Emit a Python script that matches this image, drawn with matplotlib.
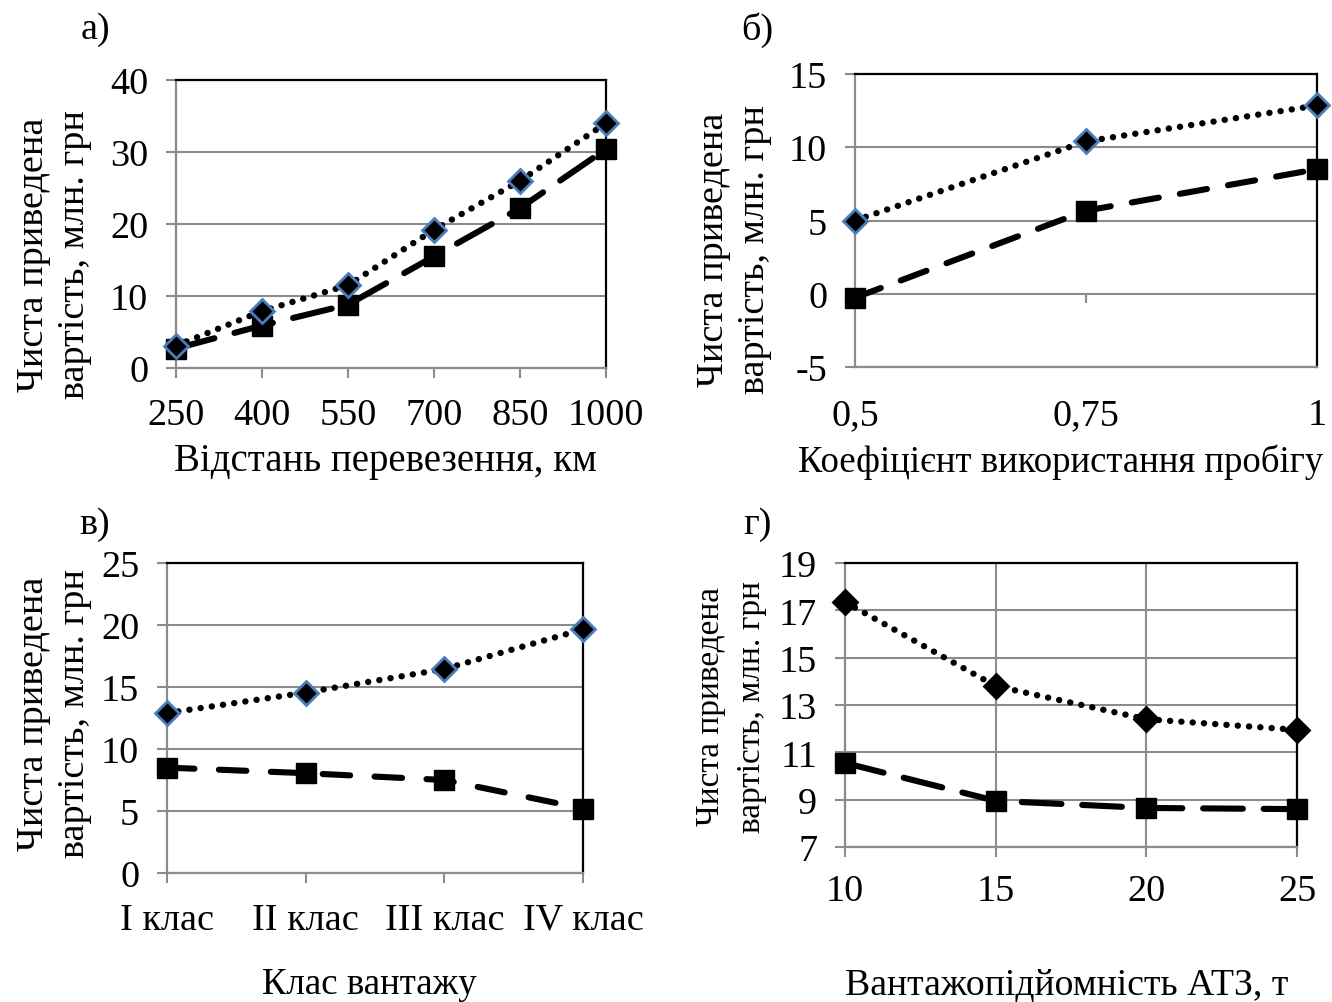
import matplotlib
matplotlib.use("Agg")
import matplotlib.pyplot as plt

plt.rcParams['font.family'] = ['Liberation Serif', 'DejaVu Serif']
plt.rcParams['axes.unicode_minus'] = False

# ---- data ----
dist_km = [250, 400, 550, 700, 850, 1000]
a_upper = [3.1, 7.9, 11.5, 19.2, 26.0, 34.0]
a_lower = [2.7, 5.9, 8.8, 15.5, 22.2, 30.4]

coef = [0.5, 0.75, 1.0]
coef_labels = ["0,5", "0,75", "1"]
b_upper = [5.0, 10.4, 12.85]
b_lower = [-0.27, 5.67, 8.5]

cargo_classes = ["I клас", "II клас", "III клас", "IV клас"]
c_upper = [12.9, 14.55, 16.45, 19.65]
c_lower = [8.5, 8.05, 7.5, 5.2]

capacity_t = [10, 15, 20, 25]
d_upper = [17.35, 13.8, 12.4, 11.95]
d_lower = [10.55, 8.95, 8.65, 8.6]

ylabel_text = "Чиста приведена\nвартість, млн. грн"

W, H = 1332, 1003
fig = plt.figure(figsize=(W / 100, H / 100), dpi=100)

GRID = '#8c8c8c'
BLUE = '#4A7EBB'
FS = 27.5


def make_ax(l, r, t, b):
    ax = fig.add_axes([l / W, 1 - b / H, (r - l) / W, (b - t) / H])
    ax.spines['top'].set_color('black')
    ax.spines['right'].set_color('black')
    ax.spines['left'].set_color(GRID)
    ax.spines['bottom'].set_color(GRID)
    for s in ax.spines.values():
        s.set_linewidth(1.6)
    ax.tick_params(axis='both', colors=GRID, labelcolor='black', labelsize=FS,
                   length=7, width=1.5, direction='out')
    ax.tick_params(axis='y', pad=13)
    ax.tick_params(axis='x', pad=14)
    ax.grid(axis='y', color=GRID, linewidth=1.5)
    ax.set_axisbelow(True)
    return ax


def dotted(ax, x, y, edge):
    ax.plot(x, y, color='black', linewidth=4.6, linestyle=(0, (0.02, 1.75)),
            dash_capstyle='round', marker='D', markersize=12.5,
            markerfacecolor='black', markeredgecolor=edge, markeredgewidth=2.0,
            zorder=4, clip_on=False)


def dashed(ax, x, y, pattern):
    ax.plot(x, y, color='black', linewidth=4.4, linestyle=(0, pattern),
            dash_capstyle='round', marker='s', markersize=15,
            markerfacecolor='black', markeredgecolor='black',
            zorder=3, clip_on=False)


# ---- panel a ----
ax = make_ax(176, 606, 81, 369)
dashed(ax, dist_km, a_lower, (6.5, 3.4))
dotted(ax, dist_km, a_upper, BLUE)
ax.set_xlim(250, 1000)
ax.set_ylim(0, 40)
ax.set_xticks(dist_km)
ax.set_yticks([0, 10, 20, 30, 40])

# ---- panel b ----
ax = make_ax(855, 1317, 75, 368)
ax.tick_params(axis='x', length=0, pad=22)
dashed(ax, coef, b_lower, (4.5, 3.5))
dotted(ax, coef, b_upper, BLUE)
ax.set_xlim(0.5, 1.0)
ax.set_ylim(-5, 15)
ax.set_xticks(coef)
ax.set_xticklabels(coef_labels)
ax.set_yticks([-5, 0, 5, 10, 15])
ax.vlines(coef[1], -0.6, 0, color=GRID, linewidth=1.5, zorder=2)

# ---- panel c ----
ax = make_ax(167, 583, 564, 874)
xc = list(range(len(cargo_classes)))
dashed(ax, xc, c_lower, (4.5, 4.0))
dotted(ax, xc, c_upper, BLUE)
ax.set_xlim(0, len(cargo_classes) - 1)
ax.set_ylim(0, 25)
ax.set_xticks(xc)
ax.set_xticklabels(cargo_classes)
ax.set_yticks([0, 5, 10, 15, 20, 25])

# ---- panel d ----
ax = make_ax(845, 1297, 564, 848)
ax.tick_params(axis='x', pad=12)
ax.grid(axis='x', color=GRID, linewidth=1.5)
dashed(ax, capacity_t, d_lower, (6.5, 3.4))
dotted(ax, capacity_t, d_upper, 'black')
ax.set_xlim(10, 25)
ax.set_ylim(7, 19)
ax.set_xticks(capacity_t)
ax.set_yticks([7, 9, 11, 13, 15, 17, 19])

# ---- texts ----
for (x, y, s) in [(95, 30, "а)"), (757, 30, "б)"), (95, 525, "в)"), (757, 525, "г)")]:
    fig.text(x / W, 1 - y / H, s, fontsize=FS, ha='center', va='center')

for (x, y, s, fs) in [(385, 462, "Відстань перевезення, км", 28),
                      (1061, 462, "Коефіцієнт використання пробігу", 26.5),
                      (369, 985, "Клас вантажу", 26.6),
                      (1067, 985, "Вантажопідйомність АТЗ, т", 27.2)]:
    fig.text(x / W, 1 - y / H, s, fontsize=fs, ha='center', va='center')

for (x, y, fs, ls) in [(54, 255, 27.5, 1.25), (734, 250, 27.5, 1.25),
                       (54, 714, 27.5, 1.25), (731, 707, 24, 1.45)]:
    fig.text(x / W, 1 - y / H, ylabel_text, fontsize=fs, rotation=90,
             ha='center', va='center', linespacing=ls, multialignment='center')

fig.savefig("out.png", dpi=100)
